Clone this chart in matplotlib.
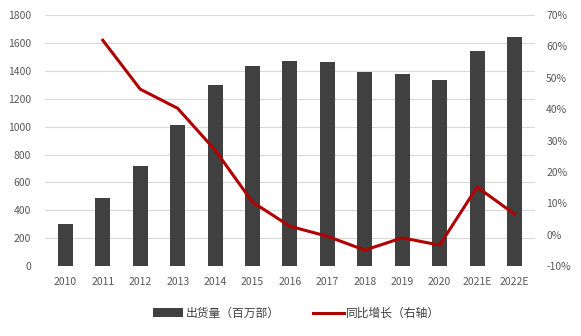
import matplotlib
matplotlib.use("Agg")
import matplotlib.pyplot as plt
import numpy as np

plt.rcParams['font.family'] = ['Noto Sans CJK SC', 'DejaVu Sans']

years = ['2010', '2011', '2012', '2013', '2014', '2015', '2016', '2017', '2018', '2019', '2020', '2021E', '2022E']
shipments = [301, 488, 717, 1011, 1298, 1434, 1470, 1463, 1391, 1377, 1334, 1542, 1642]
growth_years = years[1:]
growth = [62.0, 46.4, 40.3, 27.0, 10.4, 2.7, -0.5, -4.9, -1.0, -3.3, 15.2, 6.6]

fig = plt.figure(figsize=(5.81, 3.36), dpi=100)
ax = fig.add_axes([0.077, 0.208, 0.844, 0.747])
ax2 = ax.twinx()

x = np.arange(len(years))
ax.bar(x, shipments, width=0.4, color='#404040', label='出货量（百万部）', zorder=2)
ax2.plot(x[1:], growth, color='#B00000', lw=2.2, label='同比增长（右轴）', zorder=3)

ax.set_ylim(0, 1800)
ax.set_yticks(range(0, 1801, 200))
ax2.set_ylim(-10, 70)
ax2.set_yticks(range(-10, 71, 10))
ax2.set_yticklabels([f'{v}%' for v in range(-10, 71, 10)])
ax.set_xlim(-0.55, len(years) - 0.45)
ax.set_xticks(x)
ax.set_xticklabels(years)

ax.grid(axis='y', color='#d9d9d9', lw=0.8, zorder=0)
ax.set_axisbelow(True)
for a in (ax, ax2):
    for s in a.spines.values():
        s.set_visible(False)
    a.tick_params(length=0, labelsize=7.5, colors='#595959')
ax.tick_params(axis='x', pad=8)
ax.tick_params(axis='y', pad=10)
ax2.tick_params(axis='y', pad=8)

h1, l1 = ax.get_legend_handles_labels()
h2, l2 = ax2.get_legend_handles_labels()
fig.legend(h1 + h2, l1 + l2, loc='center', bbox_to_anchor=(0.51, 0.068), ncol=2,
           frameon=False, fontsize=8.5, labelcolor='#404040', handlelength=2.6,
           handletextpad=0.2, columnspacing=2.8)

fig.savefig('out.png', dpi=100)
